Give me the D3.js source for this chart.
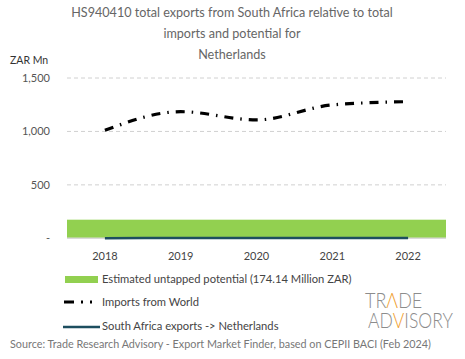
<!DOCTYPE html>
<html><head><meta charset="utf-8">
<script src="https://cdn.jsdelivr.net/npm/d3@7"></script>
<style>body{margin:0;background:#fff}svg{display:block}text{font-family:Lato,"Noto Sans",sans-serif}</style>
</head><body><svg id="c" width="465" height="359"></svg>
<script>
const years = ["2018","2019","2020","2021","2022"];
const importsWorld = [1010, 1185, 1108, 1248, 1279];
const saExports = [1, 2, 2, 3, 3];
const untappedPotential = 174.14;
const yTicks = [0, 500, 1000, 1500];
const titleLines = ["HS940410 total exports from South Africa relative to total","imports and potential for","Netherlands"];

const svg = d3.select("#c");
const x = d3.scaleBand().domain(years).range([67, 446]);
const y = d3.scaleLinear().domain([0, 1500]).range([238.3, 78]);

// title
svg.append("g").selectAll("text").data(titleLines).join("text")
  .attr("x", 232).attr("y", (d,i)=>17+i*21).attr("text-anchor","middle")
  .attr("font-size", 12.6).attr("fill","#666").text(d=>d);
svg.append("text").attr("x",10).attr("y",64).attr("font-size",10.5).attr("fill","#333").text("ZAR Mn");

// grid
svg.append("g").selectAll("line").data(yTicks.filter(d=>d>0)).join("line")
  .attr("x1",67).attr("x2",446).attr("y1",d=>y(d)).attr("y2",d=>y(d))
  .attr("stroke","#d0d0d0").attr("stroke-dasharray","4,3").attr("stroke-width",1);
svg.append("g").selectAll("text").data(yTicks).join("text")
  .attr("x",50).attr("y",d=>y(d)+4).attr("text-anchor","end").attr("font-size",11).attr("fill","#555")
  .text(d=>d===0?"-":d3.format(",")(d));

// untapped potential bar
svg.append("rect").attr("x",x.range()[0]).attr("width",x.range()[1]-x.range()[0])
  .attr("y",y(untappedPotential)).attr("height",y(0)-y(untappedPotential)).attr("fill","#92d050");
// baseline
svg.append("line").attr("x1",67).attr("x2",446).attr("y1",y(0)).attr("y2",y(0)).attr("stroke","#d9d9d9").attr("stroke-width",1.5);

const cx = d=>x(d)+x.bandwidth()/2;
// SA exports
svg.append("path").datum(saExports)
  .attr("d", d3.line().x((d,i)=>cx(years[i])).y(d=>y(d)).curve(d3.curveMonotoneX))
  .attr("fill","none").attr("stroke","#1d4e5f").attr("stroke-width",2.5);
// imports
svg.append("path").datum(importsWorld)
  .attr("d", d3.line().x((d,i)=>cx(years[i])).y(d=>y(d)).curve(d3.curveMonotoneX))
  .attr("fill","none").attr("stroke","#000").attr("stroke-width",3.2)
  .attr("stroke-dasharray","9,7,1.5,7");

// x labels
svg.append("g").selectAll("text").data(years).join("text")
  .attr("x",d=>cx(d)).attr("y",260).attr("text-anchor","middle").attr("font-size",11).attr("fill","#444").text(d=>d);

// legend
svg.append("rect").attr("x",65).attr("y",276).attr("width",33).attr("height",7).attr("fill","#92d050");
svg.append("text").attr("x",102).attr("y",283).attr("font-size",11.2).attr("fill","#444").text("Estimated untapped potential (174.14 Million ZAR)");
svg.append("line").attr("x1",64).attr("x2",101).attr("y1",302).attr("y2",302).attr("stroke","#000").attr("stroke-width",3).attr("stroke-dasharray","10,7,2,7,2,10");
svg.append("text").attr("x",102).attr("y",306).attr("font-size",11.2).attr("fill","#444").text("Imports from World");
svg.append("line").attr("x1",63).attr("x2",100).attr("y1",327).attr("y2",327).attr("stroke","#1d4e5f").attr("stroke-width",2.5);
svg.append("text").attr("x",102).attr("y",330).attr("font-size",11.2).attr("fill","#444").text("South Africa exports -> Netherlands");
svg.append("text").attr("x",10).attr("y",348).attr("font-size",10.8).attr("fill","#777")
  .text("Source: Trade Research Advisory - Export Market Finder, based on CEPII BACI (Feb 2024)");

// logo
const t1 = svg.append("text").attr("transform","translate(365,308) scale(0.8,1)").attr("font-size",22.5).attr("font-weight",300)
  .attr("font-family","Roboto").attr("fill","#8c8c8c");
t1.append("tspan").text("TR"); t1.append("tspan").attr("fill","#f0a030").text("Λ"); t1.append("tspan").text("DE");
const t2 = svg.append("text").attr("transform","translate(368,328) scale(0.78,1)").attr("font-size",22.5).attr("font-weight",300)
  .attr("font-family","Roboto").attr("fill","#8c8c8c");
t2.append("tspan").text("AD"); t2.append("tspan").attr("fill","#f0a030").text("V"); t2.append("tspan").text("ISORY");
</script></body></html>
